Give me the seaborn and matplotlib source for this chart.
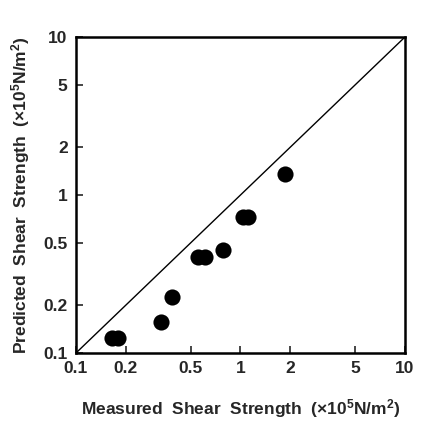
import numpy as np
import pandas as pd
import matplotlib
matplotlib.use("Agg")
import matplotlib.pyplot as plt
import seaborn as sns
from matplotlib.ticker import FixedLocator, FixedFormatter, NullLocator

# values (x10^5 N/m^2)
measured = [0.165, 0.18, 0.33, 0.385, 0.555, 0.61, 0.78, 1.04, 1.11, 1.87]
predicted = [0.124, 0.124, 0.158, 0.227, 0.403, 0.403, 0.449, 0.729, 0.729, 1.36]
tick_vals = [0.1, 0.2, 0.5, 1, 2, 5, 10]
x_tick_labels = ["0.1", "0.2", "0.5", "1", "2", "5", "10"]
y_tick_labels = ["0.1", "0.2", "0.5", "1", "2", "5", "10"]

df = pd.DataFrame({"measured": measured, "predicted": predicted})

sns.set_style("ticks")
plt.rcParams["font.family"] = ["Liberation Sans", "DejaVu Sans"]
plt.rcParams["mathtext.fontset"] = "custom"
plt.rcParams["mathtext.rm"] = "Liberation Sans:bold"
plt.rcParams["mathtext.bf"] = "Liberation Sans:bold"
plt.rcParams["mathtext.it"] = "Liberation Sans:bold"
plt.rcParams["mathtext.default"] = "bf"

fig = plt.figure(figsize=(4.4, 4.22), dpi=100)
ax = fig.add_axes([0.1727, 0.1635, 0.7477, 0.7488])

# 1:1 line
ax.plot([0.1, 10], [0.1, 10], color="black", lw=1.0, zorder=1)

sns.scatterplot(data=df, x="measured", y="predicted", ax=ax, color="black",
                s=135, edgecolor="black", linewidth=0, zorder=2, legend=False)

ax.set_xscale("log")
ax.set_yscale("log")
ax.set_xlim(0.1, 10)
ax.set_ylim(0.1, 10)

ax.xaxis.set_major_locator(FixedLocator(tick_vals))
ax.xaxis.set_major_formatter(FixedFormatter(x_tick_labels))
ax.yaxis.set_major_locator(FixedLocator(tick_vals))
ax.yaxis.set_major_formatter(FixedFormatter(y_tick_labels))
ax.xaxis.set_minor_locator(NullLocator())
ax.yaxis.set_minor_locator(NullLocator())

ax.tick_params(direction="in", length=5, width=1.2, labelsize=12.5, pad=6)
for lab in ax.get_xticklabels() + ax.get_yticklabels():
    lab.set_fontweight("bold")

for sp in ax.spines.values():
    sp.set_linewidth(1.8)
    sp.set_color("black")

ax.set_xlabel(r"Measured  Shear  Strength  ($\times$10$^5$N/m$^2$)",
              fontsize=12.5, fontweight="bold", labelpad=15)
ax.set_ylabel(r"Predicted  Shear  Strength  ($\times$10$^5$N/m$^2$)",
              fontsize=12.5, fontweight="bold", labelpad=8)

fig.savefig("out.png", dpi=100)
